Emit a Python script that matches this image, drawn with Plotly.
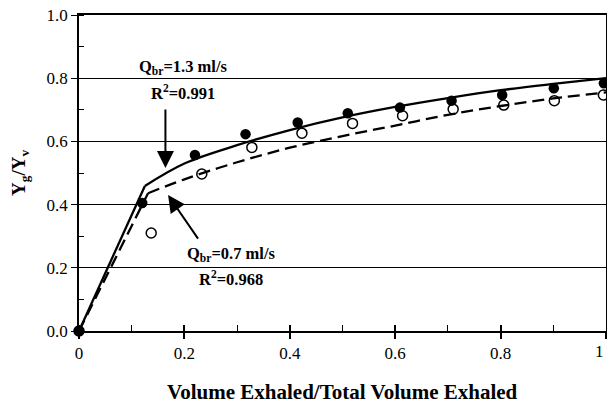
import plotly.graph_objects as go

x_filled = [0.0, 0.12, 0.22, 0.316, 0.415, 0.51, 0.609, 0.707, 0.803, 0.901, 0.996]
y_filled = [0.0, 0.405, 0.557, 0.623, 0.660, 0.689, 0.707, 0.729, 0.747, 0.768, 0.784]

x_open = [0.0, 0.137, 0.233, 0.328, 0.423, 0.519, 0.614, 0.71, 0.806, 0.902, 0.995]
y_open = [0.0, 0.310, 0.497, 0.581, 0.626, 0.657, 0.681, 0.702, 0.715, 0.729, 0.747]

# Fitted model curves; first segment is straight up to the knee
x_fit13_rise = [0.0, 0.125]
y_fit13_rise = [0.0, 0.459]
x_fit13 = [0.125, 0.2, 0.3, 0.4, 0.5, 0.6, 0.7, 0.8, 0.9, 1.0]
y_fit13 = [0.459, 0.530, 0.588, 0.636, 0.676, 0.709, 0.737, 0.762, 0.782, 0.800]

x_fit07_rise = [0.0, 0.131]
y_fit07_rise = [0.0, 0.436]
x_fit07 = [0.131, 0.2, 0.3, 0.4, 0.5, 0.6, 0.7, 0.8, 0.9, 1.0]
y_fit07 = [0.436, 0.480, 0.534, 0.580, 0.617, 0.650, 0.684, 0.712, 0.736, 0.755]

x_ticks = [0, 0.2, 0.4, 0.6, 0.8, 1.0]
x_ticklabels = ["0", "0.2", "0.4", "0.6", "0.8", "1"]
y_ticks = [0.0, 0.2, 0.4, 0.6, 0.8, 1.0]
y_ticklabels = ["0.0", "0.2", "0.4", "0.6", "0.8", "1.0"]

FONT = "Liberation Serif, Times New Roman, serif"

fig = go.Figure()

solid = dict(color="black", width=2.3)
dashed = dict(color="black", width=2.3, dash="12px,6px")
fig.add_trace(go.Scatter(x=x_fit13_rise, y=y_fit13_rise, mode="lines", line=solid,
                         showlegend=False, hoverinfo="skip"))
fig.add_trace(go.Scatter(x=x_fit13, y=y_fit13, mode="lines", line_shape="spline",
                         line=solid, showlegend=False, hoverinfo="skip"))
fig.add_trace(go.Scatter(x=x_fit07_rise, y=y_fit07_rise, mode="lines", line=dashed,
                         showlegend=False, hoverinfo="skip"))
fig.add_trace(go.Scatter(x=x_fit07, y=y_fit07, mode="lines", line_shape="spline",
                         line=dashed, showlegend=False, hoverinfo="skip"))
fig.add_trace(go.Scatter(x=x_open, y=y_open, mode="markers", cliponaxis=False,
                         marker=dict(symbol="circle-open", size=10, color="black",
                                     line=dict(width=1.5, color="black")),
                         showlegend=False))
fig.add_trace(go.Scatter(x=x_filled, y=y_filled, mode="markers", cliponaxis=False,
                         marker=dict(symbol="circle", size=10.5, color="black"),
                         showlegend=False))

# invisible trace on overlay axis to get crossing ticks on the x axis
fig.add_trace(go.Scatter(x=[0, 1], y=[0, 0], xaxis="x2", mode="markers",
                         marker=dict(opacity=0), showlegend=False, hoverinfo="skip"))

# the last x tick label sits at the right edge; it is drawn as an annotation so it stays visible
axis_ticktext = x_ticklabels[:-1] + [""]

fig.update_layout(
    width=607, height=408,
    margin=dict(l=79, r=1, t=15, b=77),
    paper_bgcolor="white", plot_bgcolor="white",
    font=dict(family=FONT, color="black", size=17),
    xaxis=dict(range=[0, 1], tickvals=x_ticks, ticktext=axis_ticktext, automargin=False,
               showgrid=False, zeroline=False, showline=True, linecolor="black",
               linewidth=1.5, mirror=True,
               ticks="outside", ticklen=6, tickwidth=1.5, tickcolor="black",
               minor=dict(dtick=0.1, ticks="inside", ticklen=6, tickwidth=1.2,
                          tickcolor="black", showgrid=False),
               tickfont=dict(size=17, family=FONT)),
    xaxis2=dict(range=[0, 1], overlaying="x", matches="x", side="bottom", automargin=False,
                tickvals=x_ticks, showticklabels=False, ticks="inside", ticklen=6,
                tickwidth=1.5, tickcolor="black", showgrid=False, zeroline=False,
                showline=False),
    yaxis=dict(range=[0, 1], tickvals=y_ticks, ticktext=y_ticklabels, automargin=False,
               showgrid=True, gridcolor="black", gridwidth=1.3,
               zeroline=False, showline=True, linecolor="black", linewidth=1.5,
               mirror=True,
               ticks="outside", ticklen=6, tickwidth=1.3, tickcolor="black",
               minor=dict(dtick=0.1, ticks="inside", ticklen=5, tickwidth=1.2,
                          tickcolor="black", showgrid=False),
               tickfont=dict(size=17, family=FONT)),
)

fig.add_annotation(x=x_ticks[-1], y=-0.066, xref="x", yref="paper", showarrow=False,
                   text=x_ticklabels[-1], xanchor="right", yanchor="middle",
                   font=dict(family=FONT, size=17, color="black"))

# axis titles
fig.add_annotation(x=0.5, y=-0.193, xref="paper", yref="paper", showarrow=False,
                   text="<b>Volume Exhaled/Total Volume Exhaled</b>",
                   font=dict(family=FONT, size=21, color="black"),
                   yanchor="middle")
fig.add_annotation(x=-0.112, y=0.5, xref="paper", yref="paper", showarrow=False,
                   text="<b>Y<sub>g</sub>/Y<sub>v</sub></b>", textangle=-90,
                   font=dict(family=FONT, size=19, color="black"),
                   xanchor="center", yanchor="middle")

ann_font = dict(family=FONT, size=16.5, color="black")
fig.add_annotation(x=0.197, y=0.835, xref="x", yref="y", showarrow=False,
                   text="<b>Q<sub>br</sub>=1.3 ml/s</b>", font=ann_font)
fig.add_annotation(x=0.197, y=0.755, xref="x", yref="y", showarrow=False,
                   text="<b>R<sup>2</sup>=0.991</b>", font=ann_font)
fig.add_annotation(x=0.289, y=0.245, xref="x", yref="y", showarrow=False,
                   text="<b>Q<sub>br</sub>=0.7 ml/s</b>", font=ann_font)
fig.add_annotation(x=0.289, y=0.165, xref="x", yref="y", showarrow=False,
                   text="<b>R<sup>2</sup>=0.968</b>", font=ann_font)

fig.add_annotation(x=0.164, y=0.516, xref="x", yref="y", text="", showarrow=True,
                   ax=0, ay=-60, arrowhead=2, arrowsize=1.7, arrowwidth=2,
                   arrowcolor="black")
fig.add_annotation(x=0.169, y=0.430, xref="x", yref="y", text="", showarrow=True,
                   ax=31, ay=45, arrowhead=2, arrowsize=1.7, arrowwidth=2,
                   arrowcolor="black")

fig.write_html("out.html", config={"displayModeBar": False},
               post_script="document.body.style.margin='0';document.body.style.overflow='hidden';")
